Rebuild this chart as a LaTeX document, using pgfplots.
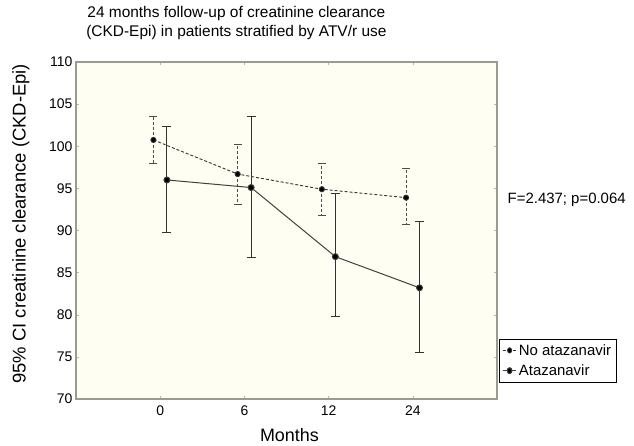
\documentclass[border=0pt]{standalone}
\usepackage{fontspec}
\setmainfont{Liberation Sans}
\usepackage{pgfplots}
\pgfplotsset{compat=1.18}

\definecolor{paper}{HTML}{FFFEF2}
\definecolor{frame}{HTML}{9A9A90}

% columns: position, mean, upper CI distance, lower CI distance
\pgfplotstableread{
x    y      ep    em
-0.08 100.75 2.75  2.75
0.92  96.7   3.5   3.6
1.92  94.9   3.1   3.05
2.92  93.9   3.5   3.2
}\noatv
\pgfplotstableread{
x    y      ep    em
0.08  96.0   6.3   6.25
1.08  95.1   8.4   8.3
2.08  86.9   7.5   7.1
3.08  83.2   7.85  7.7
}\atv

\begin{document}
\begin{tikzpicture}[font=\fontsize{14}{16}\selectfont]
\begin{axis}[
    width=421bp, height=337bp, scale only axis,
    xmin=-1, xmax=4, ymin=70, ymax=110,
    xtick={0,1,2,3}, xticklabels={0,6,12,24},
    ytick={70,75,...,110},
    /pgf/number format/assume math mode=true,
    axis background/.style={fill=paper},
    axis line style={frame, line width=1.3pt},
    tick style={frame!70, thin},
    major tick length=3pt,
    tick align=inside,
    xticklabel style={yshift=-3pt},
    xlabel={Months}, ylabel={95\% CI creatinine clearance (CKD-Epi)},
    xlabel style={at={(axis description cs:0.507,-0.107)}, anchor=center,
        font=\fontsize{18}{20}\selectfont},
    ylabel style={at={(axis description cs:-0.131,0.52)}, anchor=center,
        font=\fontsize{18.5}{20}\selectfont},
    title={24 months follow-up of creatinine clearance\\(CKD-Epi) in patients stratified by ATV/r use},
    title style={at={(axis description cs:0.381,1.098)}, anchor=center,
        align=center, font=\fontsize{15.5}{18.5}\selectfont},
    legend style={at={(axis description cs:1.005,0.178)}, anchor=north west,
        draw=black, thin, fill=white,
        font=\fontsize{15}{17}\selectfont, row sep=4pt, inner sep=3pt},
    legend image post style={xscale=0.8},
    legend cell align=left,
    clip=false,
]
\path (rel axis cs:-0.1805,-0.1365) rectangle (rel axis cs:1.3254,1.184);
\addplot[black!80, densely dashed, line width=0.9pt, mark=*, mark size=2.6pt,
    mark options={solid, fill=black},
    error bars/.cd, y dir=both, y explicit, error mark=-,
    error mark options={rotate=90, mark size=4pt, black!70, line width=0.8pt},
    error bar style={densely dashed, black!70, line width=0.9pt}]
    table[x=x, y=y, y error plus=ep, y error minus=em] {\noatv};
\addlegendentry{No atazanavir}
\addplot[black!75, solid, line width=1pt, mark=*, mark size=3pt,
    mark options={fill=black},
    error bars/.cd, y dir=both, y explicit, error mark=-,
    error mark options={rotate=90, mark size=4.5pt, black!80, line width=0.9pt},
    error bar style={black!80, line width=0.9pt}]
    table[x=x, y=y, y error plus=ep, y error minus=em] {\atv};
\addlegendentry{Atazanavir}
\node[anchor=west, font=\fontsize{15}{17}\selectfont] at (rel axis cs:1.017,0.59) {F=2.437; p=0.064};
\end{axis}
\end{tikzpicture}
\end{document}
